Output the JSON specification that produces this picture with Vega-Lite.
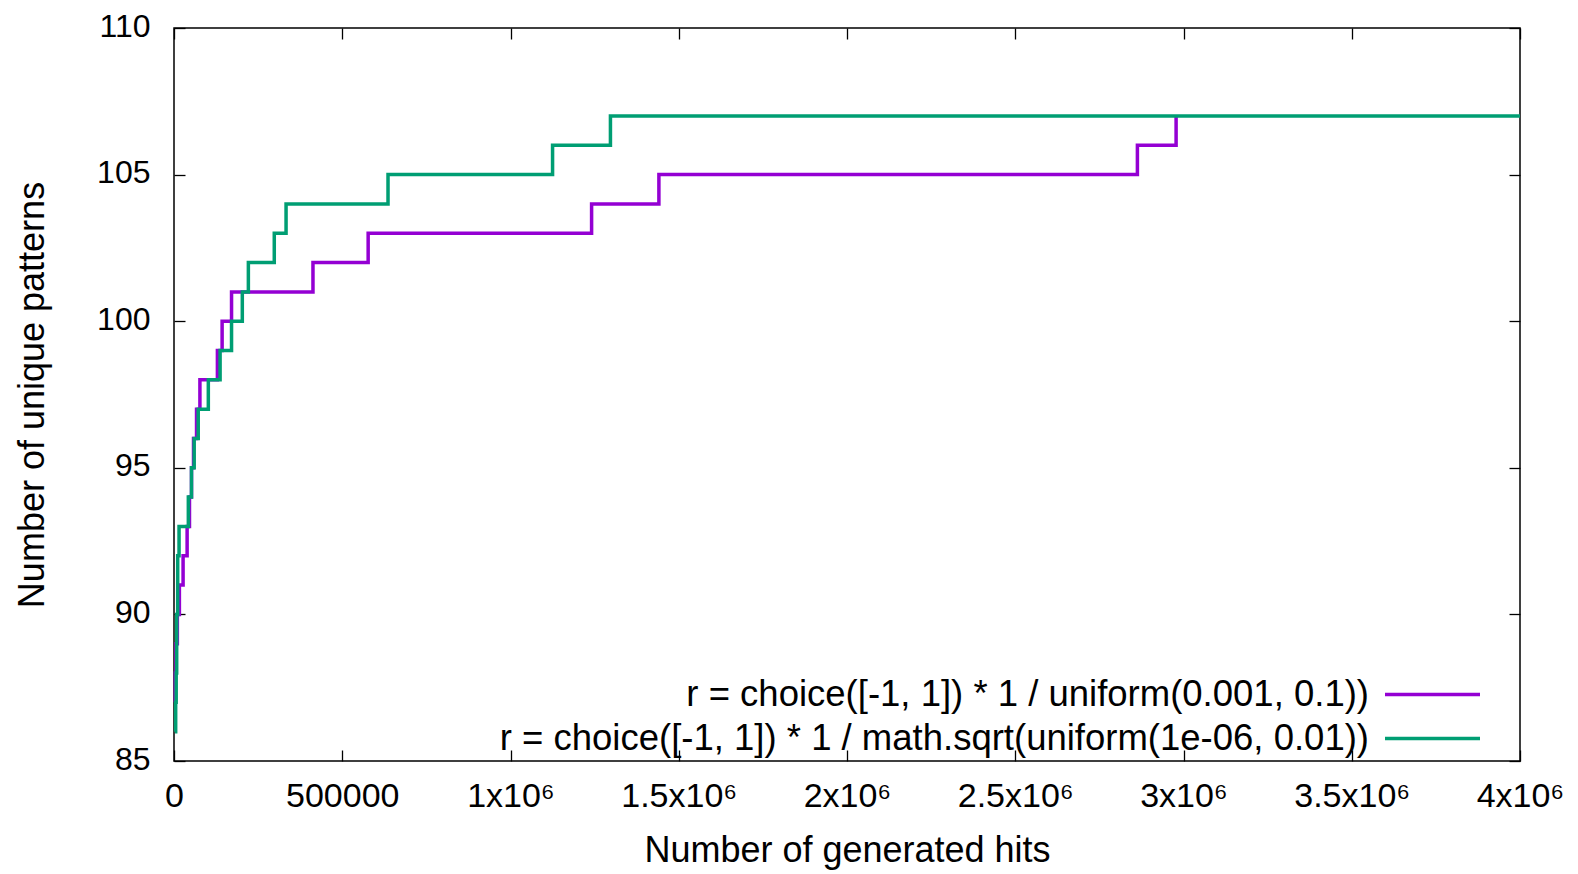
{
  "$schema": "https://vega.github.io/schema/vega-lite/v6.json",
  "width": 1346,
  "height": 733,
  "autosize": "none",
  "padding": {"left": 174, "top": 28, "right": 58, "bottom": 113},
  "background": "white",
  "config": {
    "font": "Liberation Sans",
    "view": {"stroke": "#000", "strokeWidth": 1.5},
    "axis": {
      "grid": false,
      "domain": false,
      "tickColor": "#000",
      "tickWidth": 1.3,
      "labelColor": "#000",
      "titleColor": "#000",
      "titleFontWeight": "normal",
      "labelFont": "Liberation Sans",
      "titleFont": "Liberation Sans"
    }
  },
  "data": {
    "values": [
      {"run": "r = choice([-1, 1]) * 1 / uniform(0.001, 0.1))", "hits": 2000, "patterns": 87},
      {"run": "r = choice([-1, 1]) * 1 / uniform(0.001, 0.1))", "hits": 4000, "patterns": 88},
      {"run": "r = choice([-1, 1]) * 1 / uniform(0.001, 0.1))", "hits": 6000, "patterns": 89},
      {"run": "r = choice([-1, 1]) * 1 / uniform(0.001, 0.1))", "hits": 10000, "patterns": 90},
      {"run": "r = choice([-1, 1]) * 1 / uniform(0.001, 0.1))", "hits": 16000, "patterns": 91},
      {"run": "r = choice([-1, 1]) * 1 / uniform(0.001, 0.1))", "hits": 27000, "patterns": 92},
      {"run": "r = choice([-1, 1]) * 1 / uniform(0.001, 0.1))", "hits": 39000, "patterns": 93},
      {"run": "r = choice([-1, 1]) * 1 / uniform(0.001, 0.1))", "hits": 46000, "patterns": 94},
      {"run": "r = choice([-1, 1]) * 1 / uniform(0.001, 0.1))", "hits": 52000, "patterns": 95},
      {"run": "r = choice([-1, 1]) * 1 / uniform(0.001, 0.1))", "hits": 58000, "patterns": 96},
      {"run": "r = choice([-1, 1]) * 1 / uniform(0.001, 0.1))", "hits": 67000, "patterns": 97},
      {"run": "r = choice([-1, 1]) * 1 / uniform(0.001, 0.1))", "hits": 77000, "patterns": 98},
      {"run": "r = choice([-1, 1]) * 1 / uniform(0.001, 0.1))", "hits": 129000, "patterns": 99},
      {"run": "r = choice([-1, 1]) * 1 / uniform(0.001, 0.1))", "hits": 143000, "patterns": 100},
      {"run": "r = choice([-1, 1]) * 1 / uniform(0.001, 0.1))", "hits": 171000, "patterns": 101},
      {"run": "r = choice([-1, 1]) * 1 / uniform(0.001, 0.1))", "hits": 413000, "patterns": 102},
      {"run": "r = choice([-1, 1]) * 1 / uniform(0.001, 0.1))", "hits": 577000, "patterns": 103},
      {"run": "r = choice([-1, 1]) * 1 / uniform(0.001, 0.1))", "hits": 1241000, "patterns": 104},
      {"run": "r = choice([-1, 1]) * 1 / uniform(0.001, 0.1))", "hits": 1441000, "patterns": 105},
      {"run": "r = choice([-1, 1]) * 1 / uniform(0.001, 0.1))", "hits": 2863000, "patterns": 106},
      {"run": "r = choice([-1, 1]) * 1 / uniform(0.001, 0.1))", "hits": 2978000, "patterns": 107},
      {"run": "r = choice([-1, 1]) * 1 / math.sqrt(uniform(1e-06, 0.01))", "hits": 3000, "patterns": 86},
      {"run": "r = choice([-1, 1]) * 1 / math.sqrt(uniform(1e-06, 0.01))", "hits": 5000, "patterns": 87},
      {"run": "r = choice([-1, 1]) * 1 / math.sqrt(uniform(1e-06, 0.01))", "hits": 6500, "patterns": 88},
      {"run": "r = choice([-1, 1]) * 1 / math.sqrt(uniform(1e-06, 0.01))", "hits": 8000, "patterns": 90},
      {"run": "r = choice([-1, 1]) * 1 / math.sqrt(uniform(1e-06, 0.01))", "hits": 11000, "patterns": 92},
      {"run": "r = choice([-1, 1]) * 1 / math.sqrt(uniform(1e-06, 0.01))", "hits": 15000, "patterns": 93},
      {"run": "r = choice([-1, 1]) * 1 / math.sqrt(uniform(1e-06, 0.01))", "hits": 42600, "patterns": 94},
      {"run": "r = choice([-1, 1]) * 1 / math.sqrt(uniform(1e-06, 0.01))", "hits": 52000, "patterns": 95},
      {"run": "r = choice([-1, 1]) * 1 / math.sqrt(uniform(1e-06, 0.01))", "hits": 60000, "patterns": 96},
      {"run": "r = choice([-1, 1]) * 1 / math.sqrt(uniform(1e-06, 0.01))", "hits": 72000, "patterns": 97},
      {"run": "r = choice([-1, 1]) * 1 / math.sqrt(uniform(1e-06, 0.01))", "hits": 102000, "patterns": 98},
      {"run": "r = choice([-1, 1]) * 1 / math.sqrt(uniform(1e-06, 0.01))", "hits": 137000, "patterns": 99},
      {"run": "r = choice([-1, 1]) * 1 / math.sqrt(uniform(1e-06, 0.01))", "hits": 171000, "patterns": 100},
      {"run": "r = choice([-1, 1]) * 1 / math.sqrt(uniform(1e-06, 0.01))", "hits": 203000, "patterns": 101},
      {"run": "r = choice([-1, 1]) * 1 / math.sqrt(uniform(1e-06, 0.01))", "hits": 221000, "patterns": 102},
      {"run": "r = choice([-1, 1]) * 1 / math.sqrt(uniform(1e-06, 0.01))", "hits": 298000, "patterns": 103},
      {"run": "r = choice([-1, 1]) * 1 / math.sqrt(uniform(1e-06, 0.01))", "hits": 333000, "patterns": 104},
      {"run": "r = choice([-1, 1]) * 1 / math.sqrt(uniform(1e-06, 0.01))", "hits": 636000, "patterns": 105},
      {"run": "r = choice([-1, 1]) * 1 / math.sqrt(uniform(1e-06, 0.01))", "hits": 1125000, "patterns": 106},
      {"run": "r = choice([-1, 1]) * 1 / math.sqrt(uniform(1e-06, 0.01))", "hits": 1297000, "patterns": 107},
      {"run": "r = choice([-1, 1]) * 1 / math.sqrt(uniform(1e-06, 0.01))", "hits": 4000000, "patterns": 107}
    ]
  },
  "layer": [
    {
      "mark": {"type": "line", "interpolate": "step-after", "strokeWidth": 3.5},
      "encoding": {
        "x": {
          "field": "hits",
          "type": "quantitative",
          "scale": {"domain": [0, 4000000], "nice": false},
          "axis": {
            "orient": "bottom",
            "title": "Number of generated hits",
            "values": [0, 500000, 1000000, 1500000, 2000000, 2500000, 3000000, 3500000, 4000000],
            "labelExpr": "datum.value < 1000000 ? format(datum.value, 'd') : format(datum.value / 1000000, '~g') + 'x10⁶'",
            "tickSize": -11,
            "labelPadding": 29,
            "labelFontSize": 34,
            "labelFlush": false,
            "labelOverlap": false,
            "titleFontSize": 36,
            "titlePadding": 20
          }
        },
        "y": {
          "field": "patterns",
          "type": "quantitative",
          "scale": {"domain": [85, 110], "nice": false, "zero": false},
          "axis": {
            "orient": "left",
            "title": "Number of unique patterns",
            "values": [85, 90, 95, 100, 105, 110],
            "tickSize": -11,
            "labelPadding": 35,
            "labelFontSize": 32,
            "labelOffset": -2,
            "labelOverlap": false,
            "titleFontSize": 36,
            "titlePadding": 45
          }
        },
        "color": {
          "field": "run",
          "type": "nominal",
          "scale": {
            "domain": ["r = choice([-1, 1]) * 1 / uniform(0.001, 0.1))", "r = choice([-1, 1]) * 1 / math.sqrt(uniform(1e-06, 0.01))"],
            "range": ["#9400d3", "#009e73"]
          },
          "legend": {
            "orient": "none",
            "legendX": 1233,
            "legendY": 641,
            "title": null,
            "padding": 0,
            "symbolType": "M-2,0H2",
            "symbolSize": 2256,
            "symbolStrokeWidth": 3.5,
            "symbolFillColor": "transparent",
            "labelAlign": "right",
            "labelOffset": -89,
            "labelLimit": 2000,
            "labelFont": "Liberation Sans",
            "labelFontSize": 36.5,
            "labelColor": "#000",
            "rowPadding": 0
          }
        }
      }
    },
    {
      "mark": {"type": "line", "opacity": 0},
      "encoding": {
        "x": {
          "field": "hits",
          "type": "quantitative",
          "axis": {
            "orient": "top",
            "title": null,
            "labels": false,
            "values": [0, 500000, 1000000, 1500000, 2000000, 2500000, 3000000, 3500000, 4000000],
            "tickSize": -11
          }
        },
        "y": {
          "field": "patterns",
          "type": "quantitative",
          "axis": {
            "orient": "right",
            "title": null,
            "labels": false,
            "values": [85, 90, 95, 100, 105, 110],
            "tickSize": -11
          }
        },
        "detail": {"field": "run"}
      }
    }
  ],
  "resolve": {"axis": {"x": "independent", "y": "independent"}}
}
